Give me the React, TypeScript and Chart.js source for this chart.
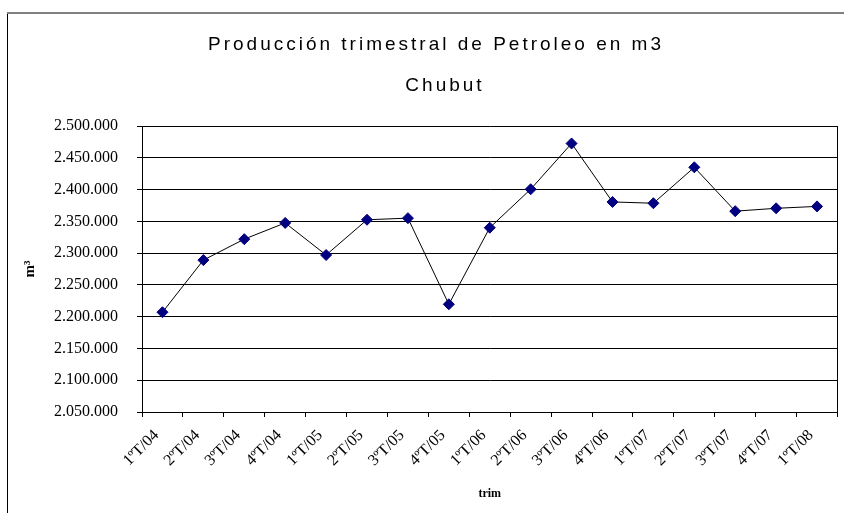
import React, { useEffect, useRef } from "react";
import { Chart, registerables } from "chart.js";

Chart.register(...registerables);

// ---- data ----
const categories = [
  "1ºT/04", "2ºT/04", "3ºT/04", "4ºT/04",
  "1ºT/05", "2ºT/05", "3ºT/05", "4ºT/05",
  "1ºT/06", "2ºT/06", "3ºT/06", "4ºT/06",
  "1ºT/07", "2ºT/07", "3ºT/07", "4ºT/07",
  "1ºT/08",
];
const production = [
  2207000, 2289000, 2322000, 2347500,
  2297000, 2352500, 2355000, 2219500,
  2340000, 2400500, 2472500, 2380500,
  2378500, 2435000, 2366000, 2370500,
  2373500,
];
const yMin = 2050000;
const yMax = 2500000;
const yStep = 50000;
const chartTitle = "Producción trimestral de Petroleo en m3";
const chartSubtitle = "Chubut";
const xAxisTitle = "trim";
const yAxisTitle = "m³";

const fmt = (v: number) => String(Math.round(v)).replace(/\B(?=(\d{3})+(?!\d))/g, ".");

const framePlugin = {
  id: "excelFrame",
  beforeDraw(chart: any) {
    const ctx = chart.ctx;
    ctx.save();
    ctx.fillStyle = "#ffffff";
    ctx.fillRect(0, 0, chart.width, chart.height);
    // outer chart frame (left + top visible)
    ctx.strokeStyle = "#000000";
    ctx.lineWidth = 1;
    ctx.beginPath();
    ctx.moveTo(7.5, 12);
    ctx.lineTo(7.5, chart.height);
    ctx.stroke();
    ctx.strokeStyle = "#808080";
    ctx.lineWidth = 2;
    ctx.beginPath();
    ctx.moveTo(7, 13);
    ctx.lineTo(chart.width, 13);
    ctx.stroke();
    ctx.restore();
  },
  afterDraw(chart: any) {
    const ctx = chart.ctx;
    const a = chart.chartArea;
    ctx.save();
    ctx.strokeStyle = "#000000";
    ctx.lineWidth = 1;
    ctx.beginPath();
    ctx.moveTo(Math.round(a.right) - 0.5, a.top);
    ctx.lineTo(Math.round(a.right) - 0.5, a.bottom);
    ctx.stroke();
    // titles
    ctx.fillStyle = "#000000";
    ctx.font = "19px 'Liberation Sans', Arial, sans-serif";
    (ctx as any).letterSpacing = "3px";
    ctx.textAlign = "center";
    ctx.textBaseline = "middle";
    ctx.fillText(chartTitle, 436, 45);
    ctx.fillText(chartSubtitle, 445, 86);
    ctx.restore();
  },
};

export default function App() {
  const ref = useRef<HTMLCanvasElement | null>(null);
  useEffect(() => {
    if (!ref.current) return;
    const chart = new Chart(ref.current, {
      type: "line",
      data: {
        labels: categories,
        datasets: [
          {
            data: production,
            borderColor: "#000000",
            borderWidth: 1,
            tension: 0,
            pointStyle: "rectRot",
            pointRadius: 5.5,
            pointBackgroundColor: "#000080",
            pointBorderColor: "#000080",
            pointBorderWidth: 1,
            fill: false,
          },
        ],
      },
      options: {
        responsive: false,
        animation: false,
        layout: { padding: { top: 126, right: 2, left: 0, bottom: 0 } },
        plugins: {
          legend: { display: false },
          title: { display: false },
          tooltip: { enabled: false },
        },
        scales: {
          x: {
            type: "category",
            offset: true,
            grid: {
              display: true,
              drawOnChartArea: false,
              drawTicks: true,
              tickLength: 5,
              color: "#000000",
              offset: true,
            },
            border: { display: true, color: "#000000", width: 1 },
            ticks: {
              autoSkip: false,
              maxRotation: 45,
              minRotation: 45,
              padding: 9,
              labelOffset: -6,
              color: "#000000",
              font: { family: "'Liberation Serif', 'Times New Roman', serif", size: 16 },
            },
            title: {
              display: true,
              text: xAxisTitle,
              color: "#000000",
              font: { family: "'Liberation Serif', 'Times New Roman', serif", size: 12, weight: "bold" },
              padding: { top: 0, bottom: 12 },
            },
            afterFit: (s: any) => {
              s.height = 101;
            },
          },
          y: {
            min: yMin,
            max: yMax,
            grid: { color: "#000000", lineWidth: 1, tickLength: 5, drawTicks: true },
            border: { display: true, color: "#000000", width: 1 },
            ticks: {
              stepSize: yStep,
              padding: 19,
              color: "#000000",
              font: { family: "'Liberation Serif', 'Times New Roman', serif", size: 16 },
              callback: (v: any) => fmt(Number(v)),
            },
            title: {
              display: true,
              text: yAxisTitle,
              color: "#000000",
              font: { family: "'Liberation Serif', 'Times New Roman', serif", size: 15, weight: "bold" },
              padding: { top: 21, bottom: 0 },
            },
            afterFit: (s: any) => {
              s.width = 142;
            },
          },
        },
      },
      plugins: [framePlugin],
    });
    return () => chart.destroy();
  }, []);
  return (
    <div style={{ position: "absolute", left: 0, top: 0, width: 844, height: 513 }}>
      <canvas ref={ref} width={844} height={513} style={{ display: "block" }} />
    </div>
  );
}
